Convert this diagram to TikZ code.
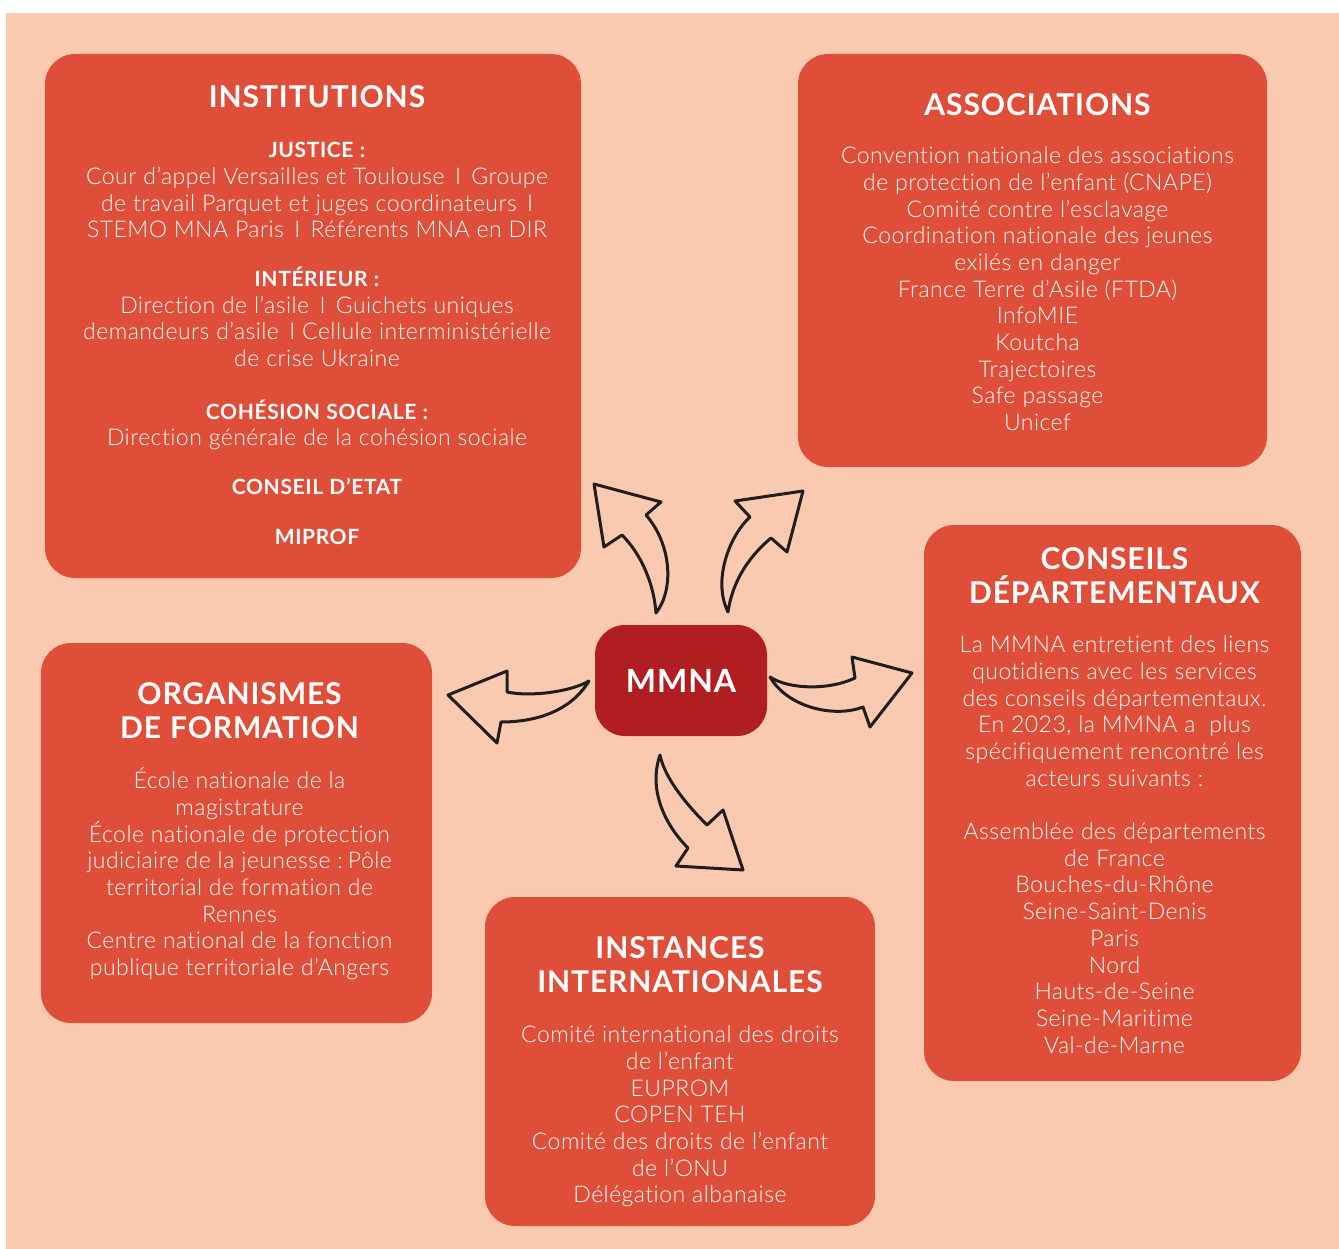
\documentclass[tikz,border=0pt]{standalone}
\usepackage{fontspec}
\IfFontExistsTF{Lato Light}
  {\setmainfont{Lato Light}[BoldFont={Lato Bold},LetterSpace=2,Ligatures=NoCommon]}
  {\setmainfont{Lato}[LetterSpace=2,Ligatures=NoCommon]}
\newfontfamily\headfont{Lato}[LetterSpace=3,Ligatures=NoCommon]
\usepackage{tikz}
\usetikzlibrary{positioning}
\usepackage{xcolor}

\definecolor{peach}{RGB}{250,202,176}
\definecolor{panelred}{RGB}{223,78,56}
\definecolor{mmnared}{RGB}{176,30,32}
\definecolor{inkline}{RGB}{30,30,30}

% letter spacing eats the word space, so set it by hand
\newcommand{\ttlfont}{\headfont\bfseries\fontsize{30}{34}\selectfont\spaceskip=0.3em\relax}
\newcommand{\subfont}{\headfont\bfseries\fontsize{21}{26.7}\selectfont\spaceskip=0.3em\relax}
\newcommand{\txtfont}{\fontsize{23}{26.7}\selectfont\spaceskip=0.3em\relax}
\newcommand{\hubfont}{\headfont\bfseries\fontsize{32}{36}\selectfont}
\newcommand{\gapskip}{\vspace{23pt}}
\newcommand{\sep}{\hspace{0.45em}I\hspace{0.45em}}

\begin{document}
\begin{tikzpicture}[x=1pt,y=-1pt,
  panel/.style={fill=panelred,rounded corners=30pt,inner sep=0pt},
  paneltext/.style={text=white,align=center,inner sep=0pt,text width=#1},
  hub/.style={fill=mmnared,rounded corners=30pt,text=white,inner sep=0pt,font=\hubfont},
  bentarrow/.style={fill=peach,draw=inkline,line width=3pt,line join=round}]
\useasboundingbox (0,0) rectangle (1339,1249);
\fill[white] (0,0) rectangle (1339,1249);
\fill[peach] (6,13) rectangle (1339,1249);

% the five panels
\node[panel,minimum width=536pt,minimum height=524pt] (inst) at (313,316) {};
\node[panel,minimum width=469pt,minimum height=413pt] (asso) at (1032.5,260.5) {};
\node[panel,minimum width=377pt,minimum height=556pt] (dept) at (1112.5,803) {};
\node[panel,minimum width=391pt,minimum height=380pt] (form) at (236.5,833) {};
\node[panel,minimum width=390pt,minimum height=329pt] (intl) at (680,1061.5) {};

\node[paneltext=526pt,below=32pt of inst.north,xshift=4pt] (insttxt) {%
  {\ttlfont INSTITUTIONS\par}\gapskip
  {\subfont JUSTICE :\par}
  {\txtfont Cour d’appel Versailles et Toulouse\sep Groupe\\
   de travail Parquet et juges coordinateurs\sep\\
   STEMO MNA Paris\sep Référents MNA en DIR\par}\vspace{22pt}
  {\subfont INTÉRIEUR :\par}
  {\txtfont Direction de l’asile\sep Guichets uniques\\
   demandeurs d’asile\hspace{0.45em}I Cellule interministérielle\\
   de crise Ukraine\par}\vspace{26pt}
  {\subfont COHÉSION SOCIALE :\par}
  {\txtfont Direction générale de la cohésion sociale\par}\vspace{22pt}
  {\subfont CONSEIL D’ETAT\par}\gapskip
  {\subfont MIPROF\par}};

\node[paneltext=460pt,below=40pt of asso.north,xshift=5pt] (assotxt) {%
  {\ttlfont ASSOCIATIONS\par}\vspace{21pt}
  {\txtfont Convention nationale des associations\\
   de protection de l’enfant (CNAPE)\\
   Comité contre l’esclavage\\
   Coordination nationale des jeunes\\
   exilés en danger\\
   France Terre d’Asile (FTDA)\\
   InfoMIE\\ Koutcha\\ Trajectoires\\ Safe passage\\ Unicef\par}};

\node[paneltext=372pt,below=23pt of dept.north,xshift=2pt] (depttxt) {%
  {\ttlfont CONSEILS\\ DÉPARTEMENTAUX\par}\vspace{22pt}
  {\txtfont La MMNA entretient des liens\\
   quotidiens avec les services\\
   des conseils départementaux.\\
   En 2023, la MMNA a\ \ plus\\
   spécifiquement rencontré les\\
   acteurs suivants :\\[26.7pt]
   Assemblée des départements\\
   de France\\ Bouches-du-Rhône\\ Seine-Saint-Denis\\ Paris\\ Nord\\
   Hauts-de-Seine\\ Seine-Maritime\\ Val-de-Marne\par}};

\node[paneltext=386pt,below=40pt of form.north,xshift=3pt] (formtxt) {%
  {\ttlfont ORGANISMES\\ DE FORMATION\par}\gapskip
  {\txtfont École nationale de la\\
   magistrature\\
   École nationale de protection\\
   judiciaire de la jeunesse : Pôle\\
   territorial de formation de\\
   Rennes\\
   Centre national de la fonction\\
   publique territoriale d’Angers\par}};

\node[paneltext=386pt,below=40pt of intl.north] (intltxt) {%
  {\ttlfont INSTANCES\\ INTERNATIONALES\par}\gapskip
  {\txtfont Comité international des droits\\
   de l’enfant\\ EUPROM\\ COPEN TEH\\
   Comité des droits de l’enfant\\
   de l’ONU\\ Délégation albanaise\par}};

% centre
\node[hub,minimum width=172pt,minimum height=111pt] (mmna) at (681,680.5) {MMNA};

% bent arrows around the centre
\draw[bentarrow] (594,484) -- (661,502) -- (646,515)
  .. controls (672,545) and (674,590) .. (656,613)
  .. controls (654,585) and (642,555) .. (622,535) -- (604,547) -- cycle;
\draw[bentarrow] (803,491) -- (735,501) -- (750,517)
  .. controls (730,535) and (712,580) .. (728,612)
  .. controls (732,585) and (745,560) .. (771,538) -- (787,552) -- cycle;
\draw[bentarrow] (770,677) .. controls (790,690) and (830,690) .. (855,678)
  -- (852,657) -- (912,673) -- (870,727) -- (863,707)
  .. controls (835,718) and (788,708) .. cycle;
\draw[bentarrow] (589,681) .. controls (570,692) and (530,697) .. (507,692)
  -- (507,671) -- (448,695) -- (497,743) -- (501,722)
  .. controls (535,722) and (570,712) .. cycle;
\draw[bentarrow] (660,755) .. controls (665,780) and (690,808) .. (707,825)
  -- (723,810) -- (743,870) -- (676,866) -- (688,848)
  .. controls (665,825) and (648,790) .. cycle;
\end{tikzpicture}
\end{document}
